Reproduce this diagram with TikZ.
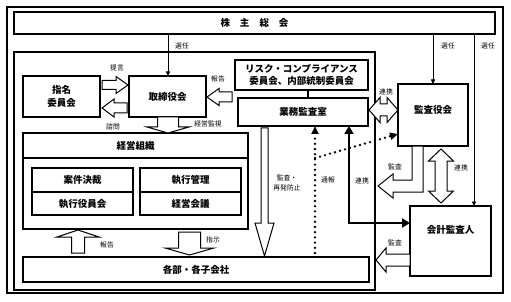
\documentclass[tikz,border=0pt]{standalone}
\usepackage{fontspec}
\setmainfont{Noto Sans CJK JP}
\usetikzlibrary{arrows.meta,calc}
\begin{document}
\begin{tikzpicture}[x=1pt,y=-1pt,
  box/.style={draw,line width=1.1pt,fill=white,inner sep=0pt,outer sep=0pt,align=center,font=\fontsize{9.5}{12.5}\selectfont\bfseries},
  txt/.style={inner sep=0pt,align=center,font=\fontsize{9.5}{12.5}\selectfont\bfseries},
  lbl/.style={inner sep=0pt,align=center,font=\fontsize{6.8}{9.5}\selectfont},
  blk/.style={draw,fill=white,line width=1pt,line join=miter},
  sel/.style={draw,line width=0.9pt,-{Triangle[length=4.5pt,width=4pt]}},
  thk/.style={draw,line width=2.4pt,{Triangle[length=8pt,width=9pt]}-{Triangle[length=8pt,width=9pt]}},
  dotl/.style={draw,line width=2.6pt,line cap=round,dash pattern=on 0pt off 5.2pt}
]
\useasboundingbox (0,0) rectangle (511,302);
% frames
\node[draw,line width=2.4pt,minimum width=496pt,minimum height=286pt,inner sep=0pt] (frame) at (255,150) {};
\node[draw,line width=1.1pt,minimum width=361pt,minimum height=238pt,inner sep=0pt] (main) at (194.5,171) {};
% boxes
\node[box,minimum width=481pt,minimum height=22pt] (kabu) at (254.5,23) {株\hspace{10pt}主\hspace{10pt}総\hspace{10pt}会};
\node[box,minimum width=77pt,minimum height=41pt] (nom) at (61.5,96.5) {指名\\委員会};
\node[box,minimum width=77pt,minimum height=41pt] (bod) at (167.5,96.5) {取締役会};
\node[box,minimum width=133pt,minimum height=30pt] (risk) at (301.5,75) {リスク・コンプライアンス\\委員会、内部統制委員会};
\node[box,minimum width=130pt,minimum height=28pt] (gyomu) at (303,112) {業務監査室};
\node[box,minimum width=70pt,minimum height=62pt] (kansa) at (433,115) {};
\node[txt] (kansat) at (433,110) {監査役会};
\node[box,minimum width=81pt,minimum height=70pt] (kaikei) at (450.5,241) {};
\node[txt] (kaikeit) at (450.5,230) {会計監査人};
\node[box,minimum width=225pt,minimum height=96pt] (org) at (135.5,181) {};
\draw[line width=1.1pt] (org.west |- 0,158) -- (org.east |- 0,158);
\node[txt] (orgt) at (135.5,145.5) {経営組織};
\node[box,minimum width=101pt,minimum height=24pt] (c1) at (82.5,180) {案件決裁};
\node[box,minimum width=101pt,minimum height=23pt] (c2) at (82.5,203.5) {執行役員会};
\node[box,minimum width=101pt,minimum height=24pt] (c3) at (190.5,180) {執行管理};
\node[box,minimum width=101pt,minimum height=23pt] (c4) at (190.5,203.5) {経営会議};
\node[box,minimum width=346pt,minimum height=25pt] (kakubu) at (196,269.5) {各部・各子会社};
% thin connectors
\draw[sel] (168,0 |- kabu.south) -- (168,0 |- bod.north);
\draw[sel] (433,0 |- kabu.south) -- (433,0 |- kansa.north);
\draw[sel] (474,0 |- kabu.south) -- (474,0 |- kaikei.north);
\draw[line width=1.1pt] (risk.south -| 308,0) -- (gyomu.north -| 308,0);
% block arrows
\draw[blk] (102,80.5)--(116,80.5)--(116,76.5)--(128,85)--(116,93.5)--(116,89.5)--(102,89.5)--cycle;
\draw[blk] (127,103)--(114,103)--(114,99)--(102,108)--(114,117)--(114,113)--(127,113)--cycle;
\draw[blk] (232,92)--(219,92)--(219,88.5)--(207,97)--(219,105.5)--(219,102)--(232,102)--cycle;
\draw[blk] (157.5,117)--(157.5,127)--(147,127)--(168,133)--(189,127)--(178.5,127)--(178.5,117)--cycle;
\draw[blk] (369,110)--(380,97.5)--(380,104)--(387,104)--(387,97.5)--(398,110)--(387,122.5)--(387,116)--(380,116)--(380,122.5)--cycle;
\draw[blk] (412,146)--(423,146)--(423,192)--(393,192)--(393,198)--(378,186)--(393,174)--(393,180)--(412,180)--cycle;
\draw[blk] (441,149)--(453.5,161)--(447,161)--(447,191)--(453.5,191)--(441,203)--(428.5,191)--(435,191)--(435,161)--(428.5,161)--cycle;
\draw[blk] (261,128)--(261,223)--(255,223)--(264.5,256)--(274,223)--(268,223)--(268,128)--cycle;
\draw[blk] (71.5,253)--(71.5,237)--(57,237)--(78,230)--(99,237)--(84.5,237)--(84.5,253)--cycle;
\draw[blk] (178.5,232)--(178.5,248)--(165,248)--(189.5,255)--(214,248)--(200.5,248)--(200.5,232)--cycle;
\draw[blk] (410,254)--(386,254)--(386,248)--(376,260)--(386,272)--(386,266)--(410,266)--cycle;
% thick and dotted connectors
\draw[thk] (349,0 |- gyomu.south) |- (kaikei.west |- 0,223);
\coordinate (dj) at (315,158);
\draw[dotl,-{Triangle[length=8pt,width=7pt]}] (315,253) -- (315,0 |- gyomu.south);
\draw[dotl,-{Triangle[length=8pt,width=7pt]}] (dj) -- (kansa.west |- 0,134);
% labels
\node[lbl] at (182,46) {選任};
\node[lbl] at (448,46) {選任};
\node[lbl] at (488,46) {選任};
\node[lbl] at (117,68) {提言};
\node[lbl] at (113,127) {諮問};
\node[lbl] at (218,79) {報告};
\node[lbl] at (208,124) {経営監視};
\node[lbl] at (386,92) {連携};
\node[lbl] at (395,167) {監査};
\node[lbl] at (461,168) {連携};
\node[lbl] at (287,183) {監査・\\再発防止};
\node[lbl] at (328,180) {通報};
\node[lbl] at (362,181) {連携};
\node[lbl] at (395,243) {監査};
\node[lbl] at (107,245) {報告};
\node[lbl] at (213,240) {指示};
\end{tikzpicture}
\end{document}
